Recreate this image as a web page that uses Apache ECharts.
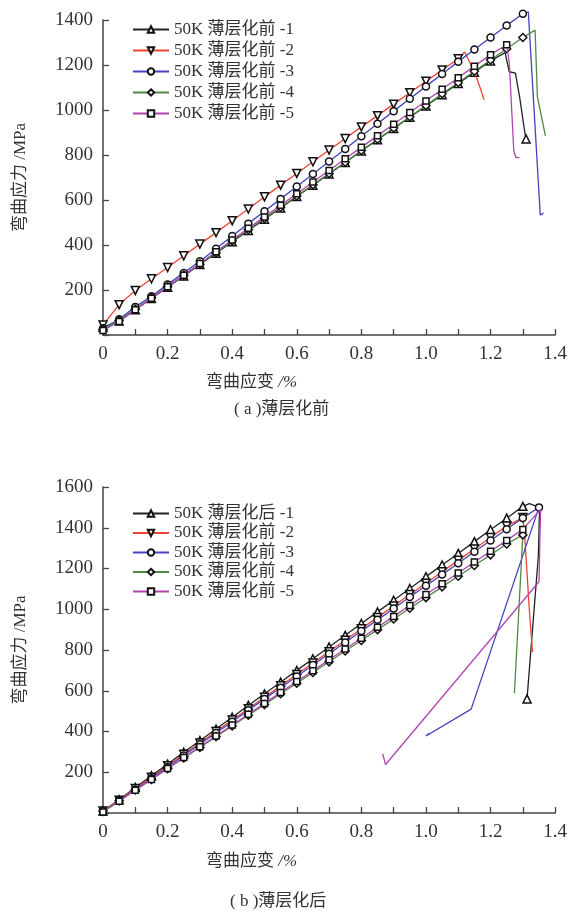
<!DOCTYPE html>
<html><head><meta charset="utf-8">
<script src="https://cdn.jsdelivr.net/npm/echarts@6/dist/echarts.min.js"></script>
<style>html,body{margin:0;padding:0;background:#fff;}#a{width:570px;height:460px;}#b{width:570px;height:461px;}</style>
</head><body><div id="a"></div><div id="b"></div>
<script>
// ---------- data ----------
const strainSteps = [0,0.05,0.1,0.15,0.2,0.25,0.3,0.35,0.4,0.45,0.5,0.55,0.6,0.65,0.7,0.75,0.8,0.85,0.9,0.95,1.0,1.05,1.1,1.15,1.2,1.25,1.3,1.35];
const xTickLabels = ['0','0.2','0.4','0.6','0.8','1.0','1.2','1.4'];

const namesA = ['50K 薄层化前 -1','50K 薄层化前 -2','50K 薄层化前 -3','50K 薄层化前 -4','50K 薄层化前 -5'];
const namesB = ['50K 薄层化后 -1','50K 薄层化前 -2','50K 薄层化前 -3','50K 薄层化前 -4','50K 薄层化前 -5'];

// (a) before thinning: stress (MPa) at strainSteps, then tail points after last marker
const a1 = [35,62,112,162,212,262,313,363,414,465,515,565,616,666,716,767,818,868,918,968,1018,1068,1118,1168,1218];
const a1TailX = [1.245,1.258,1.277,1.29,1.305,1.31];
const a1TailY = [1255,1170,1164,1058,911,871];
const a2 = [45,135,198,250,300,352,404,455,508,560,614,666,718,770,822,873,925,975,1026,1077,1128,1178,1228];
const a2TailX = [1.12,1.15,1.17,1.18];
const a2TailY = [1258,1170,1090,1045];
const a3 = [30,70,125,172,225,276,328,383,440,495,550,605,660,716,771,827,883,939,995,1050,1105,1160,1215,1269,1322,1376,1428];
const a3TailX = [1.317,1.354,1.364];
const a3TailY = [1436,533,542];
const a4 = [25,65,115,165,215,265,315,365,418,468,518,568,618,668,718,768,820,870,920,970,1020,1072,1122,1172,1222,1272,1322];
const a4TailX = [1.338,1.345,1.37];
const a4TailY = [1355,1060,885];
const a5 = [20,60,112,163,215,266,318,370,422,474,525,577,628,680,731,783,834,886,937,989,1040,1092,1143,1195,1246,1290];
const a5TailX = [1.258,1.272,1.278,1.29];
const a5TailY = [1210,820,790,788];

// (b) after thinning
const b1 = [10,65,125,183,240,298,355,412,470,528,585,642,700,757,815,872,930,987,1044,1102,1160,1217,1274,1332,1390,1447,1505];
const b1TailX = [1.32,1.352,1.348,1.313];
const b1TailY = [1518,1500,1260,560];
const b2 = [10,62,120,176,232,288,344,400,456,512,568,624,680,736,792,848,904,960,1016,1072,1128,1184,1240,1296,1352,1408,1450];
const b2TailX = [1.305,1.32,1.33];
const b2TailY = [1380,1000,790];
const b3 = [8,60,115,170,226,282,337,393,448,504,560,615,670,726,782,837,893,948,1004,1060,1115,1170,1226,1282,1337,1393,1448,1500];
const b3TailX = [1.14,1.0,1.01];
const b3TailY = [510,378,392];
const b4 = [10,60,113,165,218,270,322,375,427,480,532,585,637,690,742,795,847,900,952,1005,1057,1110,1162,1215,1267,1320,1365];
const b4TailX = [1.274];
const b4TailY = [589];
const b5 = [5,58,112,165,218,272,325,378,432,485,538,592,645,698,752,805,858,912,965,1018,1072,1125,1178,1232,1285,1338,1392];
const b5TailX = [1.355,1.35,0.875,0.866];
const b5TailY = [1490,1135,238,290];

// ---------- styling ----------
const FONT = "'Liberation Serif','Noto Sans CJK SC',serif";
const colors = ['#222222','#ee4433','#4444bb','#4f8a44','#b045b0'];
const symbols = ['triangle','triangle','circle','diamond','rect'];
const rotates = [0,180,0,0,0];
const symSizes = [8,8,7,8,6];

function buildSeries(names, vals, tails, markLast) {
  return names.map((n, i) => {
    const data = vals[i].map((v, k) => [strainSteps[k], v]);
    const tx = tails[i][0], ty = tails[i][1];
    tx.forEach((x, k) => {
      const item = { value: [x, ty[k]] };
      if (!(markLast[i] && k === tx.length - 1)) item.symbol = 'none';
      data.push(item);
    });
    return {
      type: 'line', name: n, data: data, clip: false, animation: false,
      symbol: symbols[i], symbolRotate: rotates[i], symbolSize: symSizes[i], showAllSymbol: true,
      lineStyle: { color: colors[i], width: 1.3 },
      itemStyle: { color: '#ffffff', borderColor: '#111111', borderWidth: 1.5 },
      emphasis: { disabled: true }, z: 2 + i
    };
  });
}

function buildOption(cfg) {
  return {
    animation: false,
    backgroundColor: '#ffffff',
    grid: { left: 103, right: 13, top: cfg.gridTop, height: cfg.gridH, containLabel: false },
    legend: {
      orient: 'vertical', left: 127, top: cfg.legendTop, itemWidth: 36, itemHeight: 8,
      itemGap: cfg.legendGap, data: cfg.names,
      textStyle: { fontFamily: FONT, fontSize: 17, color: '#333', lineHeight: 17 }
    },
    xAxis: {
      type: 'value', min: 0, max: 1.4, interval: 0.1,
      axisLine: { lineStyle: { color: '#444', width: 1.5 } },
      axisTick: { inside: true, length: 6, lineStyle: { color: '#444', width: 1.3 } },
      splitLine: { show: false },
      axisLabel: {
        margin: 10, fontFamily: FONT, fontSize: 19, color: '#333',
        formatter: v => { const k = Math.round(v * 10); return k % 2 === 0 ? xTickLabels[k / 2] : ''; }
      }
    },
    yAxis: {
      type: 'value', min: 0, max: cfg.yMax, interval: 200,
      name: '弯曲应力 /MPa', nameLocation: 'middle', nameGap: 74, nameRotate: 90,
      nameTextStyle: { fontFamily: FONT, fontSize: 17, color: '#333' },
      axisLine: { show: true, lineStyle: { color: '#444', width: 1.5 } },
      axisTick: { inside: true, length: 6, lineStyle: { color: '#444', width: 1.3 } },
      splitLine: { show: false },
      axisLabel: {
        margin: 10, fontFamily: FONT, fontSize: 19, color: '#333',
        formatter: v => (v > 0 && v % 200 === 0) ? String(v) : ''
      }
    },
    graphic: [
      { type: 'text', left: 206, top: cfg.xNameTop, silent: true,
        style: { text: '弯曲应变 {i|/%}', fontFamily: FONT, fontSize: 17, fill: '#333',
          rich: { i: { fontStyle: 'italic', fontFamily: FONT, fontSize: 17, fill: '#333' } } } },
      { type: 'text', left: cfg.capLeft, top: cfg.capTop, silent: true,
        style: { text: cfg.caption, fontFamily: FONT, fontSize: 17, fill: '#333' } }
    ],
    series: buildSeries(cfg.names, cfg.vals, cfg.tails, cfg.markLast)
  };
}

const chartA = echarts.init(document.getElementById('a'), null, { renderer: 'canvas' });
chartA.setOption(buildOption({
  gridTop: 20, gridH: 315, yMax: 1400, legendTop: 16, legendGap: 4,
  names: namesA, xNameTop: 374, capLeft: 234, capTop: 401, caption: '( a )薄层化前',
  vals: [a1, a2, a3, a4, a5],
  tails: [[a1TailX, a1TailY], [a2TailX, a2TailY], [a3TailX, a3TailY], [a4TailX, a4TailY], [a5TailX, a5TailY]],
  markLast: [true, false, false, false, false]
}));

const chartB = echarts.init(document.getElementById('b'), null, { renderer: 'canvas' });
chartB.setOption(buildOption({
  gridTop: 27, gridH: 326, yMax: 1600, legendTop: 40, legendGap: 2.5,
  names: namesB, xNameTop: 393, capLeft: 230, capTop: 433, caption: '( b )薄层化后',
  vals: [b1, b2, b3, b4, b5],
  tails: [[b1TailX, b1TailY], [b2TailX, b2TailY], [b3TailX, b3TailY], [b4TailX, b4TailY], [b5TailX, b5TailY]],
  markLast: [true, false, false, false, false]
}));
</script></body></html>
